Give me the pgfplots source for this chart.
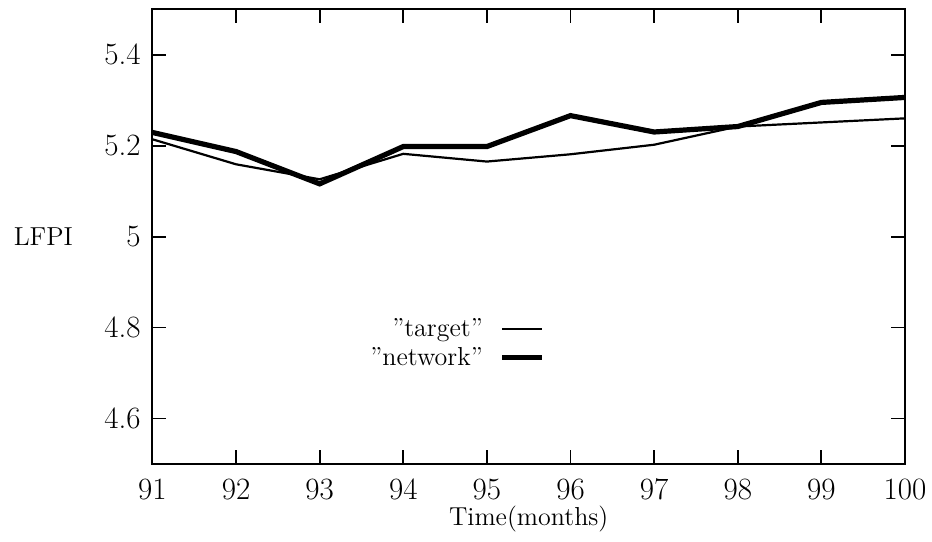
\documentclass[border=0pt]{standalone}
\usepackage{fontspec}
\usepackage{pgfplots}
\pgfplotsset{compat=1.18}
\begin{document}
\begin{tikzpicture}
\begin{axis}[
  scale only axis, width=376.3pt, height=227.4pt,
  xmin=91, xmax=100, ymin=4.5, ymax=5.5,
  xtick={91,92,93,94,95,96,97,98,99,100},
  xticklabels={91,92,93,94,95,96,97,98,99,100},
  ytick={4.6,4.8,5,5.2,5.4},
  yticklabels={4.6,4.8,5,5.2,5.4},
  tick align=inside, major tick length=7pt,
  axis line style={line width=1.1pt},
  every tick/.style={black, line width=0.9pt},
  tick label style={font=\fontsize{15.5}{18}\selectfont},
  xticklabel style={yshift=-3.8pt},
  yticklabel style={xshift=-2.4pt},
  /pgf/number format/assume math mode=true,
  xlabel={Time(months)},
  xlabel style={font=\fontsize{13}{15}\selectfont, at={(axis description cs:0.5,-0.121)}, anchor=center},
  ylabel={LFPI},
  ylabel style={font=\fontsize{13}{15}\selectfont, rotate=-90, at={(axis description cs:-0.145,0.5)}, anchor=center},
  legend style={draw=none, fill=none, at={(axis cs:95.70,4.83)}, anchor=north east, inner sep=0pt,
    font=\fontsize{13}{15}\selectfont, row sep=0pt},
  legend cell align=right,
  legend plot pos=right,
  legend image code/.code={\path (0pt,0pt); \draw[#1] (6.5pt,0pt) -- (26.5pt,0pt);},
]
\coordinate (sw) at (rel axis cs:0,0);
\addplot[black, line width=1.1pt] coordinates {
  (91,5.214) (92,5.159) (93,5.126) (94,5.182) (95,5.165)
  (96,5.181) (97,5.202) (98,5.242) (99,5.251) (100,5.260)};
\addlegendentry{''target''}
\addplot[black, line width=2.6pt] coordinates {
  (91,5.229) (92,5.187) (93,5.116) (94,5.198) (95,5.198)
  (96,5.266) (97,5.230) (98,5.242) (99,5.295) (100,5.306)};
\addlegendentry{''network''}
\end{axis}
\pgfresetboundingbox
\path[use as bounding box] (sw) ++(-76.2pt,-38.5pt) rectangle ++(466pt,270.5pt);
\end{tikzpicture}
\end{document}
